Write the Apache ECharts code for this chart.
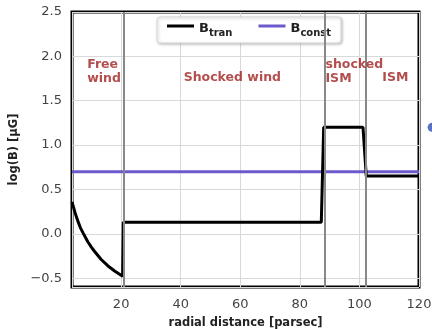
<!DOCTYPE html>
<html>
<head>
<meta charset="utf-8">
<script src="https://cdn.jsdelivr.net/npm/echarts@6/dist/echarts.min.js"></script>
<style>
html, body { margin: 0; padding: 0; background: #fff; }
#chart { width: 432px; height: 329px; }
</style>
</head>
<body>
<div id="chart"></div>
<script>
// radial distance (parsec) and log(B) of the transported field
var tranX = [3.5, 4.0, 4.5, 5.5, 6.3, 7.2, 8.8, 10.0, 11.1, 13.3, 15.5, 17.8, 20.5, 20.7, 87.2, 88.0, 101.2, 102.3, 120];
var tranY = [0.36, 0.30, 0.24, 0.14, 0.07, 0.01, -0.09, -0.15, -0.20, -0.29, -0.36, -0.42, -0.48, 0.13, 0.13, 1.2, 1.2, 0.65, 0.65];
// constant field
var constX = [3.5, 120];
var constY = [0.7, 0.7];
// region boundaries
var boundaries = [20.8, 88.4, 102.0];
// region labels [x (left edge), y, text]
var regionLabels = [
    [8.6, 1.83, "Free\nwind"],
    [41.0, 1.76, "Shocked wind"],
    [88.6, 1.83, "shocked\nISM"],
    [107.7, 1.76, "ISM"]
];
// stray marker at right edge
var dotX = [124.4];
var dotY = [1.2];

function pairs(xs, ys) {
    return xs.map(function (x, i) { return [x, ys[i]]; });
}

var chart = echarts.init(document.getElementById("chart"));
chart.setOption({
    animation: false,
    grid: {
        left: 72, right: 13, top: 12, bottom: 42,
        outerBoundsMode: "none",
        show: true,
        borderColor: "#000",
        borderWidth: 3
    },
    legend: {
        top: 17,
        left: 157,
        itemWidth: 27,
        itemHeight: 3,
        itemGap: 26,
        padding: [5, 10, 5, 10],
        borderColor: "#d8d8d8",
        borderWidth: 1,
        borderRadius: 3,
        backgroundColor: "#fff",
        shadowColor: "rgba(0,0,0,0.25)",
        shadowBlur: 3,
        shadowOffsetX: 1,
        shadowOffsetY: 1,
        data: [
            { name: "Btran", icon: "rect" },
            { name: "Bconst", icon: "rect" }
        ],
        formatter: function (name) {
            return "{b|B}{s|" + name.slice(1) + "}";
        },
        textStyle: {
            rich: {
                b: { fontFamily: "DejaVu Sans", fontWeight: "bold", fontSize: 13, color: "#222", verticalAlign: "bottom", lineHeight: 18 },
                s: { fontFamily: "DejaVu Sans", fontWeight: "bold", fontSize: 10, color: "#222", verticalAlign: "bottom", lineHeight: 12, padding: [0, 0, -3, 0] }
            }
        }
    },
    xAxis: {
        type: "value",
        min: 3.5,
        max: 120,
        splitNumber: 5,
        name: "radial distance [parsec]",
        nameLocation: "middle",
        nameGap: 30,
        nameTextStyle: { fontFamily: "DejaVu Sans", fontWeight: "bold", fontSize: 11.5, color: "#222" },
        axisLine: { show: false },
        axisTick: { show: false },
        axisLabel: { showMinLabel: false, fontFamily: "DejaVu Sans", fontSize: 13, color: "#444", margin: 11 },
        splitLine: { show: true, lineStyle: { color: "#d9d9d9", width: 1 } }
    },
    yAxis: {
        type: "value",
        min: -0.6,
        max: 2.5,
        splitNumber: 6,
        name: "log(B) [μG]",
        nameLocation: "middle",
        nameGap: 50,
        nameTextStyle: { fontFamily: "DejaVu Sans", fontWeight: "bold", fontSize: 11.5, color: "#222" },
        axisLine: { show: false },
        axisTick: { show: false },
        axisLabel: {
            showMinLabel: false,
            fontFamily: "DejaVu Sans", fontSize: 13, color: "#444", margin: 10,
            formatter: function (v) { return v < 0 ? "\u2212" + (-v).toFixed(1) : v.toFixed(1); }
        },
        splitLine: { show: true, lineStyle: { color: "#d9d9d9", width: 1 } }
    },
    series: [
        {
            name: "Bconst",
            type: "line",
            data: pairs(constX, constY),
            showSymbol: false,
            itemStyle: { color: "#6a5acd" },
            lineStyle: { color: "#6a5acd", width: 3 },
            z: 3
        },
        {
            name: "Btran",
            type: "line",
            data: pairs(tranX, tranY),
            showSymbol: false,
            itemStyle: { color: "#000" },
            lineStyle: { color: "#000", width: 3 },
            z: 4,
            markLine: {
                silent: true,
                symbol: "none",
                label: { show: false },
                lineStyle: { color: "#888", width: 2, type: "solid" },
                data: boundaries.map(function (b) { return { xAxis: b }; })
            }
        },
        {
            name: "labels",
            type: "scatter",
            data: regionLabels.map(function (r) { return [r[0], r[1]]; }),
            symbolSize: 0,
            label: {
                show: true,
                position: "right",
                distance: 0,
                formatter: function (p) { return regionLabels[p.dataIndex][2]; },
                fontFamily: "DejaVu Sans",
                fontWeight: "bold",
                fontSize: 12.5,
                lineHeight: 14,
                color: "#a02222",
                align: "left"
            },
            z: 5
        },
        {
            name: "dot",
            type: "scatter",
            data: pairs(dotX, dotY),
            symbolSize: 9,
            itemStyle: { color: "#3050b0" },
            clip: false,
            z: 5
        }
    ]
});
</script>
</body>
</html>
